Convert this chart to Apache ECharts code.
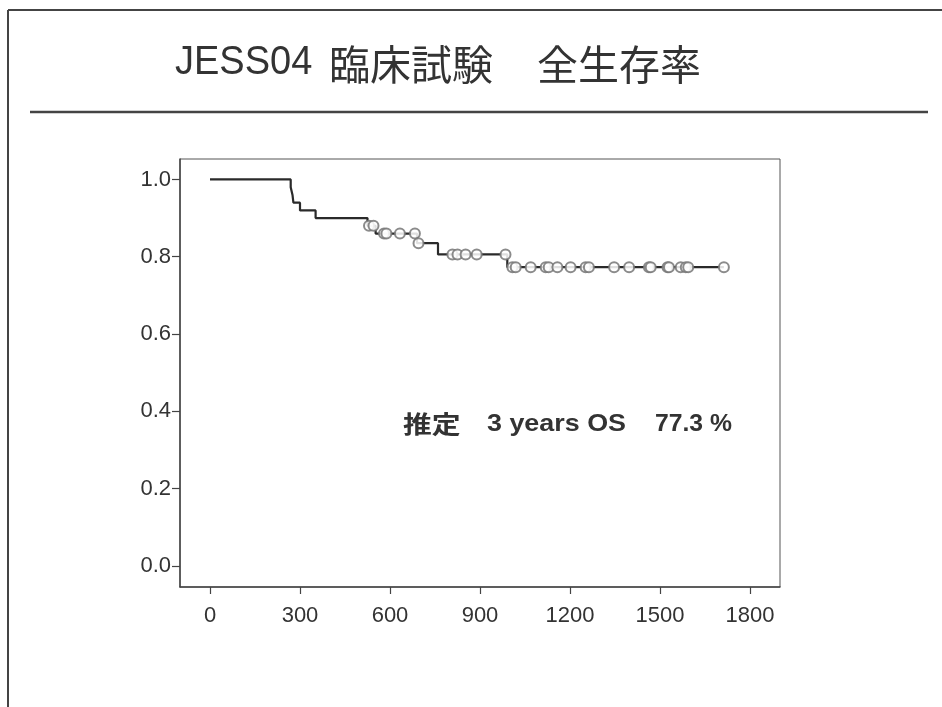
<!DOCTYPE html>
<html>
<head>
<meta charset="utf-8">
<script src="https://cdn.jsdelivr.net/npm/echarts@6/dist/echarts.min.js"></script>
<style>
html,body{margin:0;padding:0;background:#fff;}
#chart{width:942px;height:707px;}
</style>
</head>
<body>
<div id="chart"></div>
<script>
// Title and annotation text
const titleParts = ['JESS04', '臨床試験', '全生存率'];
const noteText = ['推定', '3 years OS', '77.3 %'];

// Tick labels
const xTicks = [0, 300, 600, 900, 1200, 1500, 1800];
const yTicks = [0.0, 0.2, 0.4, 0.6, 0.8, 1.0];

// Kaplan-Meier step curve (time in days, survival after event)
const eventTimes = [0, 269, 275, 278, 300, 352, 525, 552, 690, 760, 991, 1713];
const survival   = [1.0, 0.98, 0.96, 0.94, 0.92, 0.90, 0.88, 0.86, 0.835, 0.806, 0.773, 0.773];

// Censored observations (time, survival level)
const censorTimes = [530, 545, 580, 588, 633, 683, 695, 808, 825, 852, 889, 985,
  1008, 1019, 1069, 1119, 1129, 1158, 1202, 1252, 1263, 1347, 1397, 1463, 1469,
  1525, 1530, 1569, 1586, 1594, 1713];
const censorSurv = [0.88, 0.88, 0.86, 0.86, 0.86, 0.86, 0.835, 0.806, 0.806, 0.806, 0.806, 0.806,
  0.773, 0.773, 0.773, 0.773, 0.773, 0.773, 0.773, 0.773, 0.773, 0.773, 0.773, 0.773, 0.773,
  0.773, 0.773, 0.773, 0.773, 0.773, 0.773];

const chart = echarts.init(document.getElementById('chart'), null, {renderer: 'canvas'});
const ink = '#333';
const latin = '"Liberation Sans", Arial, "Noto Sans CJK JP", sans-serif';
const cjk = '"Noto Sans CJK JP", sans-serif';

const option = {
  animation: false,
  backgroundColor: '#fff',
  grid: {left: 180, top: 159, width: 600, height: 428, show: true, borderColor: '#555', borderWidth: 1, containLabel: false},
  xAxis: {
    type: 'value', min: -100, max: 1900,
    axisLine: {show: true, onZero: false, lineStyle: {color: '#444', width: 1.5}},
    axisTick: {show: true, length: 7, customValues: xTicks, lineStyle: {color: '#444', width: 1.2}},
    axisLabel: {customValues: xTicks, margin: 18, color: ink, fontSize: 22, fontFamily: latin,
      formatter: v => String(v)},
    splitLine: {show: false}
  },
  yAxis: {
    type: 'value', min: -0.055, max: 1.053,
    axisLine: {show: true, onZero: false, lineStyle: {color: '#444', width: 1.5}},
    axisTick: {show: true, length: 8, customValues: yTicks, lineStyle: {color: '#444', width: 1.2}},
    axisLabel: {customValues: yTicks, margin: 9, color: ink, fontSize: 22, fontFamily: latin,
      formatter: v => v.toFixed(1)},
    splitLine: {show: false}
  },
  series: [
    {
      type: 'line', step: 'end', symbol: 'none', z: 2,
      data: eventTimes.map((t, i) => [t, survival[i]]),
      lineStyle: {color: '#2a2a2a', width: 2.2}
    },
    {
      type: 'scatter', symbol: 'emptyCircle', symbolSize: 10, z: 3,
      data: censorTimes.map((t, i) => [t, censorSurv[i]]),
      itemStyle: {color: '#777', borderColor: '#777', borderWidth: 1.2, opacity: 0.85}
    }
  ],
  graphic: [
    {type: 'line', shape: {x1: 8, y1: 10, x2: 942, y2: 10}, style: {stroke: '#444', lineWidth: 2}},
    {type: 'line', shape: {x1: 8, y1: 10, x2: 8, y2: 707}, style: {stroke: '#444', lineWidth: 2}},
    {type: 'line', shape: {x1: 30, y1: 112, x2: 928, y2: 112}, style: {stroke: '#444', lineWidth: 2.5}},
    {type: 'text', x: 175, y: 63, style: {text: titleParts[0], font: '38px ' + latin, fill: ink, verticalAlign: 'middle'}, scaleY: 1.05},
    {type: 'text', x: 329, y: 64, style: {text: titleParts[1], font: '41px ' + cjk, fill: ink, verticalAlign: 'middle'}},
    {type: 'text', x: 537, y: 64, style: {text: titleParts[2], font: '41px ' + cjk, fill: ink, verticalAlign: 'middle'}},
    {type: 'text', x: 403, y: 424, scaleX: 1.2, style: {text: noteText[0], font: 'bold 24px ' + cjk, fill: ink, verticalAlign: 'middle'}},
    {type: 'text', x: 487, y: 424, scaleX: 1.12, style: {text: noteText[1], font: 'bold 24px ' + latin, fill: ink, verticalAlign: 'middle'}},
    {type: 'text', x: 655, y: 424, scaleX: 1.03, style: {text: noteText[2], font: 'bold 24px ' + latin, fill: ink, verticalAlign: 'middle'}}
  ]
};
chart.setOption(option);
</script>
</body>
</html>
